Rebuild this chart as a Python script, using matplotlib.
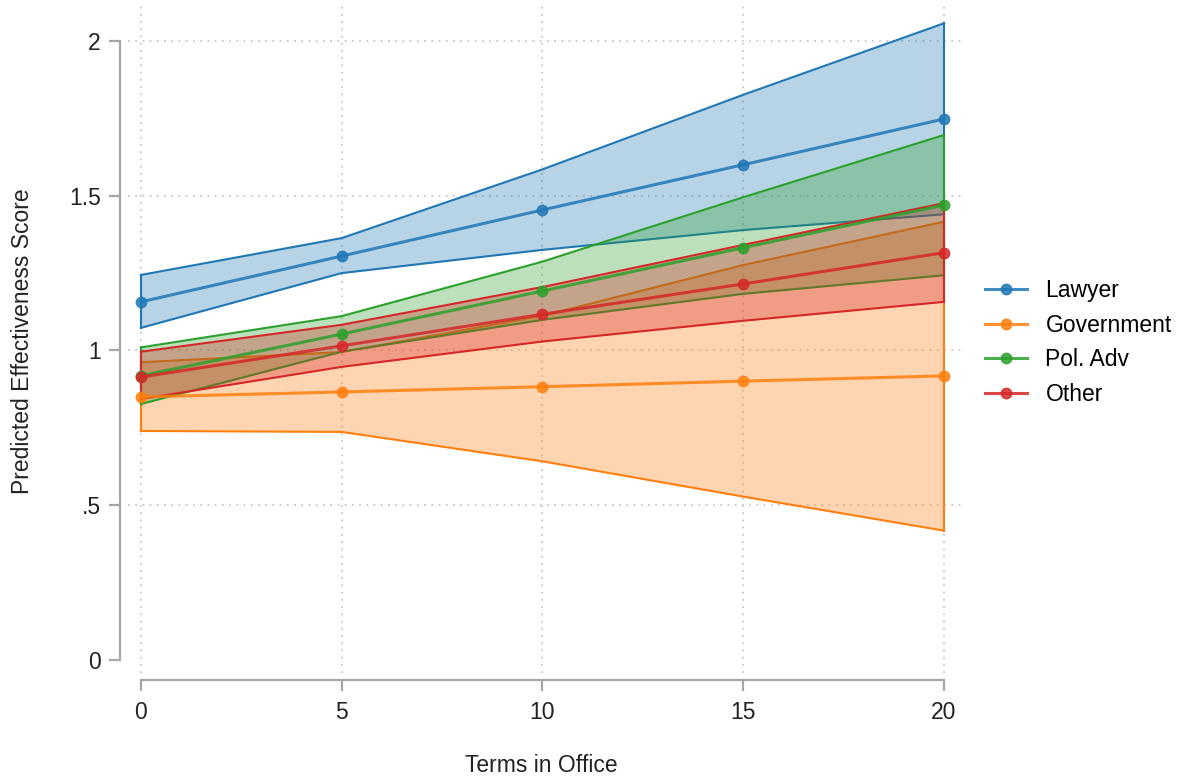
import matplotlib
matplotlib.use("Agg")
import matplotlib.pyplot as plt

plt.rcParams["font.family"] = ["Liberation Sans", "DejaVu Sans"]

# Terms in office
terms = [0, 5, 10, 15, 20]

groups = ["Lawyer", "Government", "Pol. Adv", "Other"]
colors = ["#1f77b4", "#ff7f0e", "#2ca02c", "#d62728"]

# predicted effectiveness (margins) and 95% CI bounds
lawyer = [1.157, 1.305, 1.454, 1.600, 1.748]
lawyer_lo = [1.073, 1.250, 1.325, 1.389, 1.440]
lawyer_hi = [1.244, 1.363, 1.585, 1.826, 2.057]

government = [0.850, 0.866, 0.883, 0.901, 0.918]
government_lo = [0.740, 0.737, 0.642, 0.528, 0.418]
government_hi = [0.962, 0.995, 1.112, 1.276, 1.416]

poladv = [0.918, 1.053, 1.192, 1.332, 1.470]
poladv_lo = [0.827, 0.996, 1.099, 1.183, 1.243]
poladv_hi = [1.010, 1.111, 1.287, 1.495, 1.696]

other = [0.914, 1.015, 1.117, 1.215, 1.316]
other_lo = [0.843, 0.947, 1.029, 1.096, 1.157]
other_hi = [0.996, 1.083, 1.205, 1.341, 1.476]

means = [lawyer, government, poladv, other]
lows = [lawyer_lo, government_lo, poladv_lo, other_lo]
highs = [lawyer_hi, government_hi, poladv_hi, other_hi]

fs = 16.5

fig = plt.figure(figsize=(11.82, 7.76), dpi=100)
ax = fig.add_axes([0.1083, 0.1327, 0.7056, 0.8608])

# confidence bands first
for lo, hi, c in zip(lows, highs, colors):
    ax.fill_between(terms, lo, hi, color=c, alpha=0.32, linewidth=0, zorder=2)
    ax.plot(terms, lo, color=c, linewidth=1.5, zorder=2)
    ax.plot(terms, hi, color=c, linewidth=1.5, zorder=2)
    ax.plot([terms[0], terms[0]], [lo[0], hi[0]], color=c, linewidth=1.5, zorder=2)
    ax.plot([terms[-1], terms[-1]], [lo[-1], hi[-1]], color=c, linewidth=1.5, zorder=2)

# margins lines
for m, c, g in zip(means, colors, groups):
    ax.plot(terms, m, color=c, linewidth=2.2, marker="o", markersize=7.5,
            alpha=0.85, label=g, zorder=3)

ax.set_xlim(-0.32, 20.45)
ax.set_ylim(-0.042, 2.116)

ax.set_xticks(terms)
ax.set_xticklabels(["0", "5", "10", "15", "20"])
ax.set_yticks([0, 0.5, 1, 1.5, 2])
ax.set_yticklabels(["0", ".5", "1", "1.5", "2"])

# dotted grid
for t in terms:
    ax.axvline(t, color="#c8c8c8", linestyle=(0, (1, 3)), linewidth=1.3, zorder=1)
for v in [0.5, 1, 1.5, 2]:
    ax.axhline(v, color="#c8c8c8", linestyle=(0, (1, 3)), linewidth=1.3, zorder=1)

for s in ["top", "right"]:
    ax.spines[s].set_visible(False)
ax.spines["left"].set_position(("outward", 6))
ax.spines["bottom"].set_position(("outward", 5))
ax.spines["left"].set_bounds(0, 2)
ax.spines["bottom"].set_bounds(0, 20)
for s in ["left", "bottom"]:
    ax.spines[s].set_color("#a6a6a6")
    ax.spines[s].set_linewidth(1.6)

ax.tick_params(axis="both", colors="#a6a6a6", width=1.6, length=8,
               labelcolor="#222222", labelsize=fs)
ax.tick_params(axis="y", pad=5.5)
ax.tick_params(axis="x", pad=7)

ax.set_xlabel("Terms in Office", fontsize=fs, color="#222222")
ax.set_ylabel("Predicted Effectiveness Score", fontsize=fs, color="#222222")
ax.xaxis.set_label_coords(0.4958, -0.121)
ax.yaxis.set_label_coords(-0.1127, 0.497)

leg = ax.legend(loc="center left", bbox_to_anchor=(1.0168, 0.495), frameon=False,
                fontsize=fs, handlelength=1.83, labelspacing=0.5,
                handletextpad=0.8, borderaxespad=0)

fig.savefig("out.png", dpi=100)
